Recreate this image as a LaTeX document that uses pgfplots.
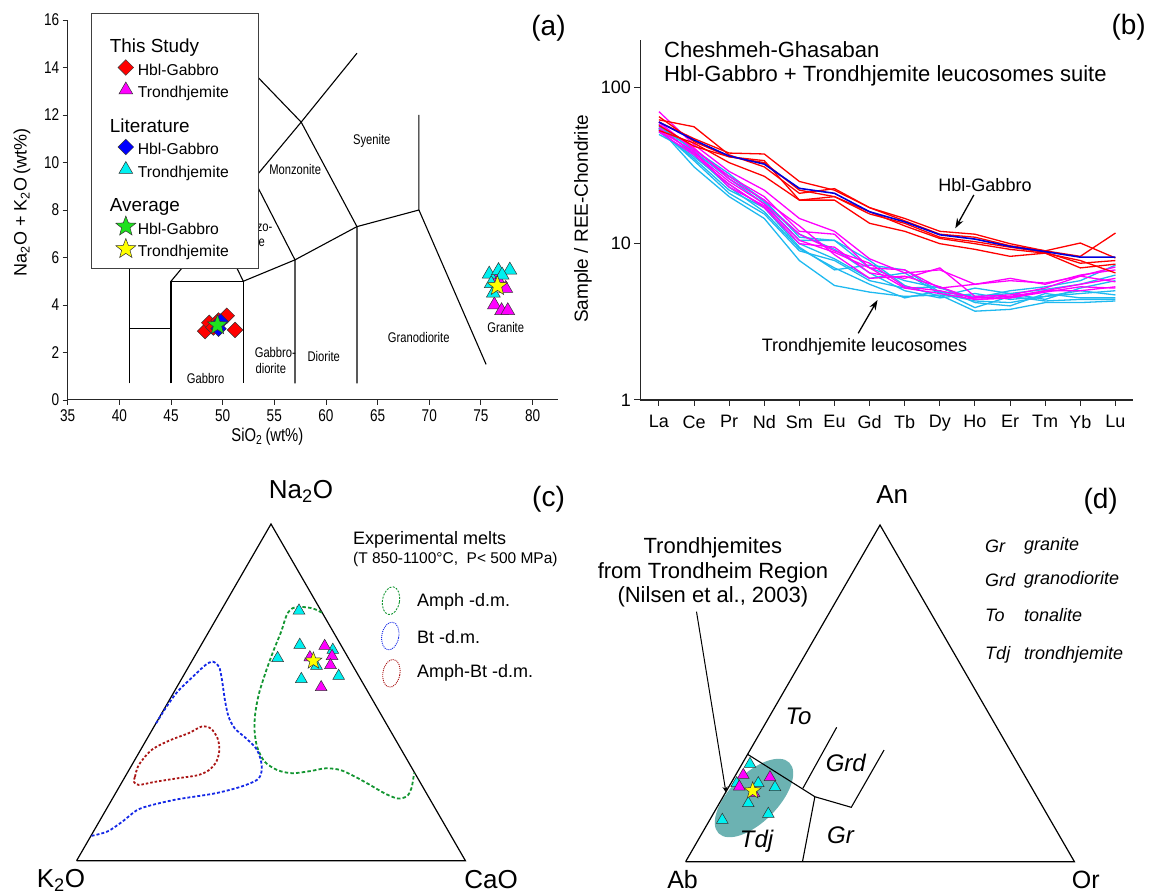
\documentclass[border=0pt]{standalone}
\usepackage{fontspec}
\setmainfont{Liberation Sans}
\newfontfamily\narrowfont[FakeStretch=0.8]{Liberation Sans}
\usepackage{pgfplots}
\usepackage{pgfplotstable}
\pgfplotsset{compat=1.18}
\usetikzlibrary{arrows.meta}

\definecolor{cyanline}{RGB}{30,185,240}
\definecolor{mycyan}{RGB}{0,240,240}
\definecolor{mymag}{RGB}{255,0,255}
\definecolor{mygreen}{RGB}{30,225,30}
\definecolor{myyellow}{RGB}{255,255,0}
\definecolor{dgreen}{RGB}{20,150,50}
\definecolor{dblue}{RGB}{20,40,230}
\definecolor{dred}{RGB}{170,20,20}
\definecolor{tealfill}{RGB}{108,178,178}
\definecolor{blueline}{RGB}{0,0,220}

\newcommand{\fs}[1]{\fontsize{#1}{#1}\selectfont}
\newcommand{\ent}[1]{\rule[-6pt]{0pt}{23pt}#1\hspace*{4pt}}
\newcommand{\hdr}[1]{\hspace*{-28pt}\rule[-6pt]{0pt}{35pt}{\fs{18.9}#1}}

\pgfdeclareplotmark{fstar}{%
  \pgfpathmoveto{\pgfpointpolar{90}{\pgfplotmarksize}}%
  \pgfpathlineto{\pgfpointpolar{126}{0.42\pgfplotmarksize}}%
  \pgfpathlineto{\pgfpointpolar{162}{\pgfplotmarksize}}%
  \pgfpathlineto{\pgfpointpolar{198}{0.42\pgfplotmarksize}}%
  \pgfpathlineto{\pgfpointpolar{234}{\pgfplotmarksize}}%
  \pgfpathlineto{\pgfpointpolar{270}{0.42\pgfplotmarksize}}%
  \pgfpathlineto{\pgfpointpolar{306}{\pgfplotmarksize}}%
  \pgfpathlineto{\pgfpointpolar{342}{0.42\pgfplotmarksize}}%
  \pgfpathlineto{\pgfpointpolar{18}{\pgfplotmarksize}}%
  \pgfpathlineto{\pgfpointpolar{54}{0.42\pgfplotmarksize}}%
  \pgfpathclose
  \pgfusepathqfillstroke
}

\pgfplotsset{
  tasline/.style={black, line width=1.1pt, forget plot, mark=none},
  rdia/.style={only marks, mark=square*, mark size=5.5pt, mark options={rotate=45, fill=red, draw=black!80, line width=0.5pt, solid}},
  bdia/.style={only marks, mark=square*, mark size=5.5pt, mark options={rotate=45, fill=blue, draw=black!80, line width=0.5pt, solid}},
  mtri/.style={only marks, mark=triangle*, mark size=#1, mark options={fill=mymag, draw=black!80, line width=0.5pt, solid}},
  ctri/.style={only marks, mark=triangle*, mark size=#1, mark options={fill=mycyan, draw=black!80, line width=0.5pt, solid}},
  gstar/.style={only marks, mark=fstar, mark size=#1, mark options={fill=mygreen, draw=black!80, line width=0.5pt, solid}},
  ystar/.style={only marks, mark=fstar, mark size=#1, mark options={fill=myyellow, draw=black!80, line width=0.5pt, solid}},
  tern/.style={scale only axis, width=388.8pt, height=336.7pt, xmin=0, xmax=100, ymin=0, ymax=86.6, hide axis, clip=false},
}

% REE chondrite-normalised patterns (rows: La ... Lu)
\pgfplotstableread{
i C1 C2 C3 C4 C5 C6 C7 C8 M1 M2 M3 M4 M5 M6 R1 R2 R3 R4 R5 B
0 55 57 52 58 50 53 56 54 70 60 55 52 58 53 62 60 57 53 65 60
1 31 37 36 39 38 35 40 34 43 40 38 37 41 39 56 47 42 44 45 46
2 20 23 24 26 27 22 28 21 29 27 25 24 26 23 37 38 36 33 36 36.4
3 14.5 16 17 18 19 17 18.5 15.5 22 20 18 17 19 17.5 31 37.5 34 27 33 32.3
4 7.8 9.3 10 10.5 11 9.5 11.5 9 14.5 12 11.5 10 13 10.5 21 25 19 19 22 22.6
5 5.4 7.0 8.0 10.5 10.5 6.8 9.2 7.8 12 11.5 9 9.5 8.5 8.8 22.5 22 20 19 20 21
6 4.9 5.5 6.0 7.0 7.8 7.3 6.5 5.8 8 7 7.5 6.5 6 7 17 17 15.5 13.5 16 16
7 4.6 4.5 6.5 5.8 5.4 6.8 5.0 5.2 6.5 6.8 5.3 6 6.2 5.2 14.5 14 13.5 12 13 13.8
8 4.7 5.0 4.8 5.2 4.6 4.9 4.5 5.3 6.8 5.2 5 7 5.3 4.8 12 11.5 11 10 10.8 11.4
9 3.7 3.9 4.3 4.5 5.2 4.6 4.8 4.2 5.5 5.5 4.5 4.6 4.4 4.4 11.5 11 10.3 9.2 10 10.7
10 3.8 4.6 4.2 5.0 4.8 4.8 4.4 4.0 5.8 6 4.6 4.7 4.5 4.5 10 9.7 9.5 8.3 9.2 9.6
11 4.2 4.3 4.6 5.3 4.4 5.1 4.6 4.8 5.6 5.5 5 5.2 4.9 5 9 9 8.8 8.7 8.7 8.9
12 4.2 4.4 4.8 5.8 5.2 5.5 5.0 4.5 6.2 6.3 5.5 6.2 5.3 5 8.3 10.1 7.5 7 7.8 8.2
13 4.3 4.4 5.0 7.3 5.8 6.3 4.7 4.5 7.1 6.8 6.0 5.7 5.2 5.3 11.7 8.1 7.8 7.4 6.5 8.2
}\reetable

\begin{document}
\begin{tikzpicture}
\useasboundingbox (0,0) rectangle (1151pt,895pt);

% ---------------- Panel (a): TAS ----------------
\begin{axis}[
  at={(67.7pt,495pt)}, anchor=south west, scale only axis,
  width=490.7pt, height=380pt, xmin=35, xmax=82.5, ymin=0, ymax=16,
  axis lines*=left, axis line style={-, line width=1pt, black!85},
  xtick={35,40,...,80}, ytick={0,2,...,16},
  tick align=outside, major tick length=5pt, tick style={line width=0.9pt, black!85},
  tick label style={font=\narrowfont\fs{17}},
  xticklabel style={yshift=-1pt},
  /pgf/number format/assume math mode=true,
  xlabel={SiO\textsubscript{2}\,(wt\%)},
  xlabel style={font=\narrowfont\fs{18.5}, at={(axis description cs:0.407,-0.097)}, anchor=center},
  ylabel={Na\textsubscript{2}O + K\textsubscript{2}O\,(wt\%)},
  ylabel style={font=\fs{18}, at={(axis description cs:-0.093,0.52)}, anchor=center},
  clip=false,
  legend cell align=left,
  legend style={at={(axis description cs:0.0484,1.0175)}, anchor=north west,
    draw=black!75, line width=0.8pt, fill=white, inner xsep=24pt, inner ysep=8pt,
    font=\fs{15.7}, nodes={inner sep=2pt},
    /tikz/every even column/.append style={column sep=15pt}},
]
\addplot[tasline] coordinates {(41,0.7) (41,7)};
\addplot[tasline] coordinates {(41,3) (45,3)};
\addplot[tasline] coordinates {(45,0.7) (45,5) (52,5) (52,0.7)};
\addplot[tasline] coordinates {(45,5) (49.4,7.3) (52,5)};
\addplot[tasline] coordinates {(49.4,7.3) (53,9.3) (57.6,11.7) (63,14.6)};
\addplot[tasline] coordinates {(41,7) (45,9.4) (48.4,11.5) (52.5,14) (57.6,11.7)};
\addplot[tasline] coordinates {(52,5) (57,5.9) (63,7.3) (69,8)};
\addplot[tasline] coordinates {(57,0.7) (57,5.9) (53,9.3)};
\addplot[tasline] coordinates {(63,0.7) (63,7.3) (57.6,11.7)};
\addplot[tasline] coordinates {(69,12) (69,8) (75.5,1.5)};

\node[font=\narrowfont\fs{14}] at (axis cs:64.43,10.9) {Syenite};
\node[font=\narrowfont\fs{14}] at (axis cs:57.02,9.69) {Monzonite};
\node[font=\narrowfont\fs{14}, anchor=east] at (axis cs:55.16,7.30) {Monzo-};
\node[font=\narrowfont\fs{14}, anchor=east] at (axis cs:54.42,6.67) {diorite};
\node[font=\narrowfont\fs{14}] at (axis cs:48.35,0.91) {Gabbro};
\node[font=\narrowfont\fs{14}] at (axis cs:55.1,2.0) {Gabbro-};
\node[font=\narrowfont\fs{14}] at (axis cs:54.66,1.34) {diorite};
\node[font=\narrowfont\fs{14}] at (axis cs:59.78,1.83) {Diorite};
\node[font=\narrowfont\fs{14}] at (axis cs:68.98,2.64) {Granodiorite};
\node[font=\narrowfont\fs{14}] at (axis cs:77.4,3.07) {Granite};

\addlegendimage{empty legend}\addlegendentry{\hdr{This Study}}
\addplot[rdia] coordinates {(48.3,2.9) (48.7,3.25) (49.1,3.05) (50.4,3.55) (51.2,2.95) (49.6,3.35)};
\addlegendentry{\ent{Hbl-Gabbro}}
\addplot[mtri=8pt] coordinates {(76.7,4.9) (77.4,4.7) (76.3,4.0) (77.0,3.76) (77.6,3.76) (76.6,5.1)};
\addlegendentry{\ent{Trondhjemite}}
\addlegendimage{empty legend}\addlegendentry{\hdr{Literature}}
\addplot[bdia] coordinates {(49.8,3.3) (49.6,3.0)};
\addlegendentry{\ent{Hbl-Gabbro}}
\addplot[ctri=8pt] coordinates {(75.8,5.3) (76.7,5.45) (77.8,5.47) (77.05,5.26) (76.2,4.5) (76.0,4.9)};
\addlegendentry{\ent{Trondhjemite}}
\addlegendimage{empty legend}\addlegendentry{\hdr{Average}}
\addplot[gstar=10.5pt] coordinates {(49.5,3.15)};
\addlegendentry{\ent{Hbl-Gabbro}}
\addplot[ystar=10.5pt] coordinates {(76.6,4.8)};
\addlegendentry{\ent{Trondhjemite}}
\end{axis}

% ---------------- Panel (b): REE ----------------
\begin{axis}[
  at={(640.4pt,495pt)}, anchor=south west, scale only axis,
  width=492.6pt, height=360pt, xmin=-0.527, xmax=13.5,
  ymode=log, ymin=1, ymax=201,
  axis lines*=left, axis line style={-, line width=1.1pt, black!85},
  xtick={0,...,13}, xticklabels={La,Ce,Pr,Nd,Sm,Eu,Gd,Tb,Dy,Ho,Er,Tm,Yb,Lu},
  ytick={1,10,100}, yticklabels={1,10,100}, yminorticks=false,
  tick align=outside, major tick length=6pt, tick style={line width=1pt, black!85},
  tick label style={font=\fs{18}},
  xticklabel style={yshift=-6pt},
  ylabel={Sample / REE-Chondrite},
  ylabel style={font=\fs{19}, at={(axis description cs:-0.1165,0.503)}, anchor=center},
  clip=false,
]
\foreach \s in {C1,C2,C3,C4,C5,C6,C7,C8}{
  \addplot[cyanline, line width=1.3pt, mark=none] table[x=i, y=\s] {\reetable};
}
\foreach \s in {M1,M2,M3,M4,M5,M6}{
  \addplot[mymag, line width=1.3pt, mark=none] table[x=i, y=\s] {\reetable};
}
\foreach \s in {R1,R2,R3,R4,R5}{
  \addplot[red, line width=1.3pt, mark=none] table[x=i, y=\s] {\reetable};
}
\addplot[blueline, line width=1.6pt, mark=none] table[x=i, y=B] {\reetable};
\end{axis}

% ---------------- Panel (c): Na2O-K2O-CaO ternary ----------------
\begin{axis}[tern, at={(76.6pt,34.3pt)}, anchor=south west]
\addplot[black, line width=1.2pt, mark=none] coordinates {(0,0) (100,0) (50,86.6) (0,0)};
% Amph dehydration melting field
\addplot[dgreen, line width=1.8pt, dash pattern=on 3.5pt off 2.2pt, smooth, mark=none] coordinates {
 (63.08,63.79) (60.70,64.9) (57.37,65.3) (55.47,64.9) (54.04,63.2) (52.61,58.9) (50.71,54.2)
 (48.81,49.0) (46.91,43.0) (45.95,37.9) (45.76,33.6) (46.43,29.3) (48.33,25.5) (51.66,23.3)
 (55.47,22.5) (60.23,23.07) (64.03,23.76) (67.84,23.33) (71.64,21.6) (75.45,19.5) (79.26,17.3)
 (82.59,16.0) (84.97,16.6) (86.11,18.6) (86.68,21.6) (86.87,22.6)};
% Bt dehydration melting field
\addplot[dblue, line width=1.8pt, dash pattern=on 3pt off 2pt, smooth, mark=none] coordinates {
 (20.45,35.33) (23.12,39.6) (25.97,43.5) (29.78,47.2) (33.11,50.3) (35.01,51.2) (36.63,49.9)
 (37.39,46.5) (38.15,41.3) (39.10,37.0) (40.72,34.0) (43.57,31.5) (46.14,28.9) (47.38,25.9)
 (47.57,22.9) (46.43,20.8) (42.15,19.0) (35.49,17.3) (25.97,15.8) (19.31,14.3) (15.51,13.0)
 (11.70,10.0) (7.89,7.5) (3.7,6.35)};
% Amph-Bt dehydration melting field
\addplot[dred, line width=1.8pt, dash pattern=on 2.5pt off 2pt, smooth, mark=none] coordinates {
 (15.03,21.6) (15.98,24.6) (19.31,28.5) (24.07,31.0) (28.83,32.8) (32.16,34.5) (34.54,34.0)
 (36.25,31.5) (36.72,28.5) (35.96,25.5) (34.06,23.3) (31.20,22.0) (25.97,21.2) (20.26,20.3)
 (15.98,19.5) (14.74,20.3) (15.03,21.6)};
\addplot[ctri=6.8pt] coordinates {(57.2,64.3) (57.4,55.5) (51.7,52.1) (65.9,54.2) (61.7,50.1) (57.8,46.7) (67.4,47.5)};
\addplot[mtri=6.8pt] coordinates {(63.8,55.2) (65.7,52.6) (65.3,50.3) (60.0,52.3) (62.9,44.6)};
\addplot[ystar=9pt] coordinates {(60.9,51.4)};
\end{axis}

% ---------------- Panel (d): An-Ab-Or ternary ----------------
\begin{axis}[tern, at={(685.6pt,33.3pt)}, anchor=south west]
\fill[tealfill, rotate around={45:(axis cs:17.59,16.38)}] (axis cs:17.59,16.38) ellipse [x radius=50pt, y radius=24pt];
\addplot[black, line width=1.2pt, mark=none] coordinates {(0,0) (100,0) (50,86.6) (0,0)};
\addplot[black, line width=1.1pt, mark=none] coordinates {(15.95,27.62) (33.25,16.71) (42.61,13.99) (51.04,28.72)};
\addplot[black, line width=1.1pt, mark=none] coordinates {(30.16,18.87) (38.85,34.56)};
\addplot[black, line width=1.1pt, mark=none] coordinates {(33.25,16.71) (30.06,0)};
\addplot[ctri=6.8pt] coordinates {(16.56,25.12) (22.99,19.13) (16.12,15.02) (21.27,12.27) (9.44,10.72) (18.69,20.16) (13.14,20.16)};
\addplot[mtri=6.8pt] coordinates {(14.84,22.29) (13.81,19.29) (21.70,21.70) (17.59,17.59)};
\addplot[ystar=9pt] coordinates {(17.25,18.26)};
\end{axis}

% ---------------- Texts and annotations (pixel frame) ----------------
\begin{scope}[x=1pt, y=-1pt, yshift=895pt]
\node[font=\fs{28}] at (548.5,28.3) {(a)};
\node[font=\fs{28}] at (1128.6,27.5) {(b)};
\node[font=\fs{28}] at (548.5,499.2) {(c)};
\node[font=\fs{28}] at (1100.7,501.7) {(d)};

% panel b
\node[anchor=west, font=\fs{22}] at (660.6,50) {Cheshmeh-Ghasaban};
\node[anchor=west, font=\fs{22}] at (660.6,76) {Hbl-Gabbro + Trondhjemite leucosomes suite};
\node[font=\fs{18}] at (985,185) {Hbl-Gabbro};
\draw[-{Stealth[length=10pt,width=7pt]}, line width=1.3pt] (973.8,195) -- (955.3,228.3);
\node[font=\fs{18}] at (864.5,346.7) {Trondhjemite leucosomes};
\draw[-{Stealth[length=10pt,width=7pt]}, line width=1.3pt] (858.2,333.3) -- (877.5,300);

% panel c
\node[font=\fs{26}] at (301,491.5) {Na\textsubscript{2}O};
\node[font=\fs{26}] at (61,880) {K\textsubscript{2}O};
\node[font=\fs{26}] at (491,880) {CaO};
\node[anchor=west, font=\fs{18}] at (349.6,540) {Experimental melts};
\node[anchor=west, font=\fs{15.5}] at (349.6,559.3) {(T 850-1100°C,\ \ P< 500 MPa)};
\draw[dgreen, line width=0.9pt, dash pattern=on 2pt off 1.3pt, rotate around={-10:(391,600.7)}] (391,600.7) ellipse [x radius=8.5pt, y radius=14pt];
\draw[dblue, line width=0.9pt, dash pattern=on 1pt off 1pt, rotate around={-10:(390.3,636)}] (390.3,636) ellipse [x radius=8.5pt, y radius=14pt];
\draw[dred, line width=0.9pt, dash pattern=on 1pt off 1pt, rotate around={-10:(391.4,673.3)}] (391.4,673.3) ellipse [x radius=8.5pt, y radius=14pt];
\node[anchor=west, font=\fs{18}] at (413.6,601.7) {Amph -d.m.};
\node[anchor=west, font=\fs{18}] at (413.6,636.7) {Bt -d.m.};
\node[anchor=west, font=\fs{18}] at (413.6,673.3) {Amph-Bt -d.m.};

% panel d
\node[font=\fs{26}] at (892.2,495) {An};
\node[font=\fs{25}] at (682.6,879.5) {Ab};
\node[font=\fs{25}] at (1085.8,879.5) {Or};
\node[font=\fs{22}] at (712.9,548.3) {Trondhjemites};
\node[font=\fs{22}] at (712.9,572.7) {from Trondheim Region};
\node[font=\fs{22}] at (712.9,596.7) {(Nilsen et al., 2003)};
\draw[-{Stealth[length=6pt,width=5pt]}, line width=1pt] (696.5,611.7) -- (726,792.7);
\node[anchor=west, font=\fs{18}\itshape] at (981.7,546) {Gr};
\node[anchor=west, font=\fs{18}\itshape] at (1020.6,546) {granite};
\node[anchor=west, font=\fs{18}\itshape] at (981.7,580) {Grd};
\node[anchor=west, font=\fs{18}\itshape] at (1020.6,580) {granodiorite};
\node[anchor=west, font=\fs{18}\itshape] at (981.7,615) {To};
\node[anchor=west, font=\fs{18}\itshape] at (1020.6,615) {tonalite};
\node[anchor=west, font=\fs{18}\itshape] at (981.7,655) {Tdj};
\node[anchor=west, font=\fs{18}\itshape] at (1020.6,655) {trondhjemite};
\node[font=\fs{24}\itshape] at (798.5,716) {To};
\node[font=\fs{24}\itshape] at (845.8,762.7) {Grd};
\node[font=\fs{24}\itshape] at (840.4,835) {Gr};
\node[font=\fs{24}\itshape] at (756.6,841.7) {Tdj};
\end{scope}
\end{tikzpicture}
\end{document}
